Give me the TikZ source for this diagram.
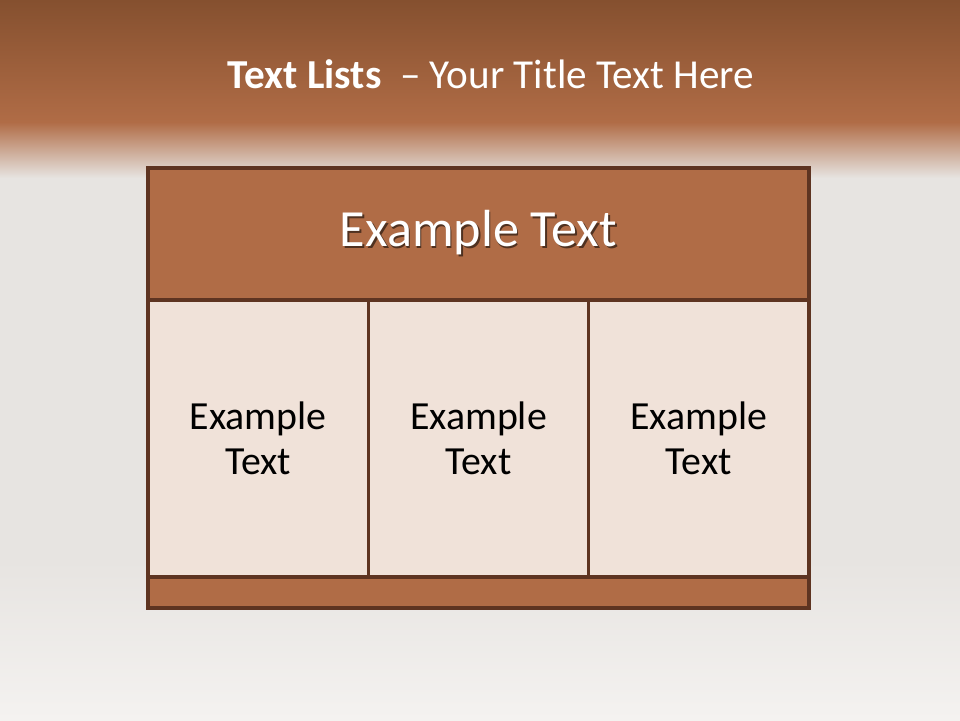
\documentclass[tikz,border=0pt]{standalone}
\usepackage{fontspec}
\setmainfont{Carlito}
\usetikzlibrary{positioning}
\definecolor{SlideBrownDark}{HTML}{85502F}
\definecolor{SlideBrown}{HTML}{B06C46}
\definecolor{SlideLine}{HTML}{5E3421}
\definecolor{SlideCell}{HTML}{F0E2D9}
\definecolor{SlideGrey}{HTML}{E7E4E1}
\definecolor{SlideLight}{HTML}{F4F2F0}
\newcommand{\shadowtext}[1]{%
  \makebox[0pt][l]{\kern1.4pt\raisebox{-1.4pt}{\color{black!55!SlideBrown}#1}}#1}
\tikzset{
  boxbase/.style={draw=SlideLine,line width=2.4pt,outer sep=0pt,inner sep=0pt},
  headbox/.style={boxbase,fill=SlideBrown,text=white,
    minimum width=17.49cm,minimum height=3.49cm,
    font=\fontsize{39.3}{47}\selectfont},
  cellbox/.style={boxbase,fill=SlideCell,text=black,align=center,
    minimum width=5.83cm,minimum height=7.33cm,
    font=\fontsize{30}{34}\selectfont},
  bandbox/.style={boxbase,fill=SlideBrown,
    minimum width=17.49cm,minimum height=0.82cm}
}

\begin{document}
\begin{tikzpicture}[x=0.02646cm,y=-0.02646cm]
        \useasboundingbox (0,0) rectangle (960,720);

        % backdrop
        \fill[SlideGrey] (0,0) rectangle (960,720);
        \shade[top color=SlideBrownDark,bottom color=SlideBrown]
          (0,0) rectangle (960,122);
        \shade[top color=SlideBrown,bottom color=SlideGrey]
          (0,122) rectangle (960,178);
        \shade[top color=SlideGrey,bottom color=SlideLight]
          (0,560) rectangle (960,720);

        \node[anchor=base,text=white,font=\fontsize{31}{37}\selectfont]
          (title) at (491,88) {\textbf{Text Lists}\ \ -- Your Title Text Here};

        % table
        \node[headbox] (head) at (478.5,234) {\shadowtext{Example Text}};

        \node[cellbox,anchor=north west] (cellA) at (head.south west) {Example\\Text};
        \node[cellbox,anchor=north west] (cellB) at (cellA.north east) {Example\\Text};
        \node[cellbox,anchor=north west] (cellC) at (cellB.north east) {Example\\Text};

        \node[bandbox,anchor=north west] (band) at (cellA.south west) {};
      \end{tikzpicture}
\end{document}
